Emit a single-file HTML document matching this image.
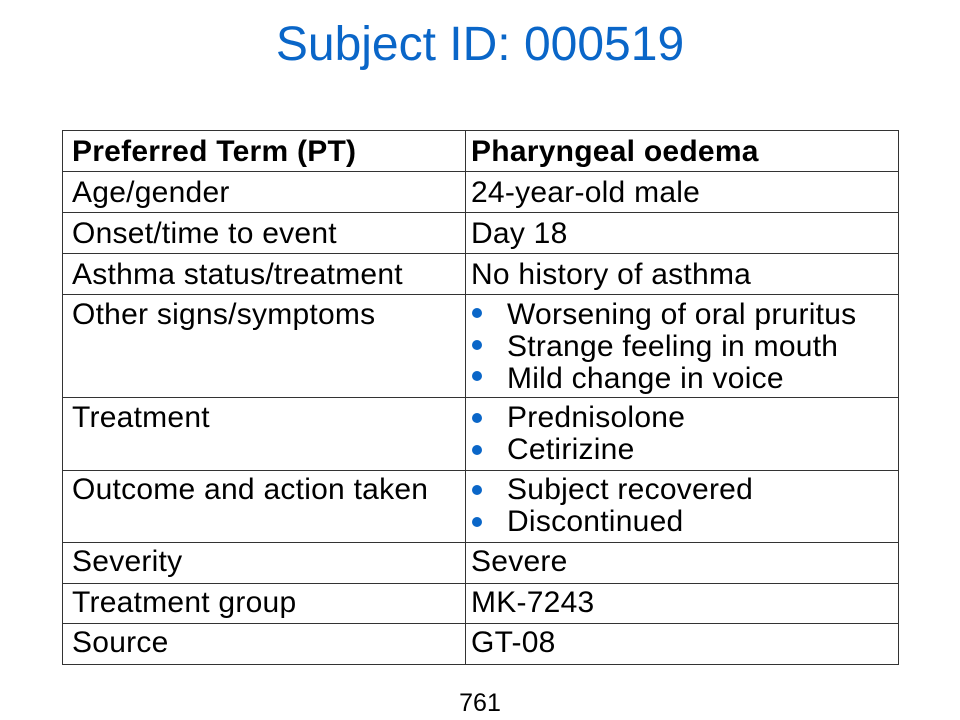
<!DOCTYPE html>
<html><head><meta charset="utf-8"><style>
body{margin:0;width:960px;height:720px;background:#fff;position:relative;overflow:hidden;font-family:"Liberation Sans",Arial,sans-serif;color:#000}
.t{position:absolute;left:0;width:960px;text-align:center;top:17px;font-size:48px;color:#0a66c8;line-height:56px}
.hl{position:absolute;left:62px;width:837px;height:0;border-top:1.5px solid #333}
.vl{position:absolute;top:130px;height:534px;width:0;border-left:1.5px solid #333}
.c{position:absolute;font-size:30px;letter-spacing:0.25px;line-height:32px;white-space:nowrap;margin-top:2px}
.b{position:absolute;width:10px;height:10px;border-radius:50%;background:#0a66c8}
.p{position:absolute;left:0;width:960px;text-align:center;top:688px;font-size:25px;line-height:30px}
</style></head><body>
<div class="t">Subject ID: 000519</div>
<div>
<div class="hl" style="top:130px"></div><div class="hl" style="top:171px"></div><div class="hl" style="top:212px"></div><div class="hl" style="top:253px"></div><div class="hl" style="top:294px"></div><div class="hl" style="top:397px"></div><div class="hl" style="top:470px"></div><div class="hl" style="top:542px"></div><div class="hl" style="top:583px"></div><div class="hl" style="top:623px"></div><div class="hl" style="top:664px"></div>
<div class="vl" style="left:62px"></div><div class="vl" style="left:465px"></div><div class="vl" style="left:898px"></div>
<div class="c" style="left:72px;top:134px;font-weight:bold">Preferred Term (PT)</div>
<div class="c" style="left:471px;top:134px;font-weight:bold">Pharyngeal oedema</div>
<div class="c" style="left:72px;top:175px">Age/gender</div>
<div class="c" style="left:471px;top:175px">24-year-old male</div>
<div class="c" style="left:72px;top:216px">Onset/time to event</div>
<div class="c" style="left:471px;top:216px">Day 18</div>
<div class="c" style="left:72px;top:257px">Asthma status/treatment</div>
<div class="c" style="left:471px;top:257px">No history of asthma</div>
<div class="c" style="left:72px;top:297px">Other signs/symptoms</div>
<div class="b" style="left:472px;top:308px"></div><div class="c" style="left:507px;top:297px">Worsening of oral pruritus</div>
<div class="b" style="left:472px;top:340px"></div><div class="c" style="left:507px;top:329px">Strange feeling in mouth</div>
<div class="b" style="left:472px;top:371px"></div><div class="c" style="left:507px;top:361px">Mild change in voice</div>
<div class="c" style="left:72px;top:400px">Treatment</div>
<div class="b" style="left:472px;top:413px"></div><div class="c" style="left:507px;top:400px">Prednisolone</div>
<div class="b" style="left:472px;top:445px"></div><div class="c" style="left:507px;top:432px">Cetirizine</div>
<div class="c" style="left:72px;top:472px">Outcome and action taken</div>
<div class="b" style="left:472px;top:485px"></div><div class="c" style="left:507px;top:472px">Subject recovered</div>
<div class="b" style="left:472px;top:517px"></div><div class="c" style="left:507px;top:504px">Discontinued</div>
<div class="c" style="left:72px;top:544px">Severity</div>
<div class="c" style="left:471px;top:544px">Severe</div>
<div class="c" style="left:72px;top:585px">Treatment group</div>
<div class="c" style="left:471px;top:585px">MK-7243</div>
<div class="c" style="left:72px;top:625px">Source</div>
<div class="c" style="left:471px;top:625px">GT-08</div>
</div>
<div class="p">761</div>
</body></html>
